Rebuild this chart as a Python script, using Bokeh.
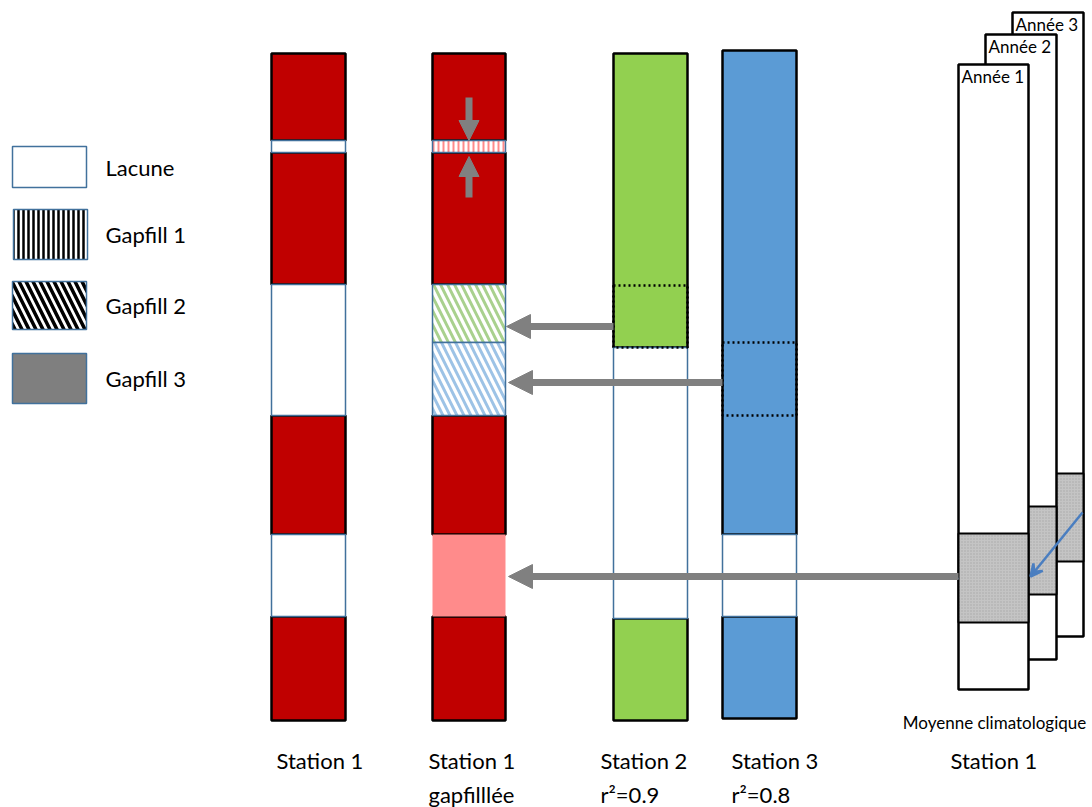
from bokeh.plotting import figure
from bokeh.models import Range1d, Arrow, NormalHead, VeeHead
from bokeh.core.properties import value
from bokeh.embed import file_html
from bokeh.resources import INLINE

FONT = "Lato"

# ---- diagram content (segment bounds along the time axis, top->bottom) ----
columns = ["Station 1", "Station 1 gapfilllée", "Station 2", "Station 3"]
col_left = [271, 432, 613, 722]
col_right = [345, 505, 687, 796]
col_segments = [
    [(53, 140, "obs1"), (140, 152, "gap"), (152, 284, "obs1"), (284, 415, "gap"),
     (415, 534, "obs1"), (534, 616, "gap"), (616, 720, "obs1")],
    [(53, 140, "obs1"), (140, 152, "gf1"), (152, 284, "obs1"), (284, 342, "gf2a"),
     (342, 415, "gf2b"), (415, 534, "obs1"), (534, 616, "gf3"), (616, 720, "obs1")],
    [(53, 347, "obs2"), (347, 618, "gap"), (618, 720, "obs2")],
    [(50, 534, "obs3"), (534, 616, "gap"), (616, 718, "obs3")],
]
used_periods = [(2, 285, 347), (3, 342, 415)]

styles = {
    "obs1": dict(fill_color="#C00000", line_color="black", line_width=2.5),
    "obs2": dict(fill_color="#92D050", line_color="black", line_width=2.5),
    "obs3": dict(fill_color="#5B9BD5", line_color="black", line_width=2.5),
    "gap": dict(fill_color="white", line_color="#41719C", line_width=1.5),
    "gf1": dict(fill_color="white", line_color="#41719C", line_width=1.5,
                hatch_pattern="vertical_line", hatch_color="#FF8B8B", hatch_scale=5, hatch_weight=2),
    "gf2a": dict(fill_color="white", line_color="#41719C", line_width=1.5,
                 hatch_pattern="left_diagonal_line", hatch_color="#A9D18E", hatch_scale=14, hatch_weight=3),
    "gf2b": dict(fill_color="white", line_color="#41719C", line_width=1.5,
                 hatch_pattern="left_diagonal_line", hatch_color="#9DC3E6", hatch_scale=14, hatch_weight=3),
    "gf3": dict(fill_color="#FF8B8B", line_color=None),
}

legend_labels = ["Lacune", "Gapfill 1", "Gapfill 2", "Gapfill 3"]
legend_top = [146, 209, 281, 353]
legend_bottom = [187, 259, 329, 403]

years = ["Année 3", "Année 2", "Année 1"]
year_left = [1012, 985, 958]
year_right = [1083, 1056, 1028]
year_top = [12, 34, 64]
year_bottom = [636, 659, 689]
year_fill_top = [473, 506, 533]
year_fill_bottom = [561, 594, 622]

# fill arrows: (from_x, to_x, y)
fill_arrows = [(613, 505, 326), (722, 507, 382), (958, 507, 576)]

bottom_labels = ["Station 1", "Station 1", "Station 2", "Station 3", "Station 1"]
bottom_sub = ["", "gapfilllée", "r²=0.9", "r²=0.8", ""]
bottom_x = [276, 428, 600, 731, 950]

p = figure(width=1092, height=807, x_range=Range1d(0, 1092), y_range=Range1d(807, 0),
           output_backend="svg", toolbar_location=None, min_border=0,
           x_axis_type=None, y_axis_type=None)
p.grid.visible = False
p.outline_line_color = None
p.background_fill_color = "white"

# columns
for ci, segs in enumerate(col_segments):
    order = sorted(segs, key=lambda s: 0 if s[2].startswith("obs") else 1)
    for top, bot, kind in order:
        p.quad(left=col_left[ci], right=col_right[ci], top=top, bottom=bot, **styles[kind])

for ci, top, bot in used_periods:
    p.quad(left=col_left[ci], right=col_right[ci], top=top, bottom=bot, fill_color=None,
           line_color="black", line_width=2.5, line_dash="2 3")

# small arrows showing gapfill 1
mid = (col_left[1] + col_right[1]) / 2
p.add_layout(Arrow(x_start=mid, y_start=97, x_end=mid, y_end=140, line_color="#808080", line_width=7,
                   end=NormalHead(size=20, fill_color="#808080", line_color="#808080")))
p.add_layout(Arrow(x_start=mid, y_start=197, x_end=mid, y_end=156, line_color="#808080", line_width=7,
                   end=NormalHead(size=20, fill_color="#808080", line_color="#808080")))

# year boxes (back to front)
for i in range(3):
    p.quad(left=year_left[i], right=year_right[i], top=year_top[i], bottom=year_bottom[i],
           fill_color="white", line_color="black", line_width=2.5)
    p.quad(left=year_left[i], right=year_right[i], top=year_fill_top[i], bottom=year_fill_bottom[i],
           fill_color="#C4C4C4", line_color="black", line_width=2,
           hatch_pattern="dot", hatch_color="#A8A8A8", hatch_scale=3, hatch_weight=1)
p.text(x=[x + 3 for x in year_left], y=[t + 1 for t in year_top], text=years,
       text_font=value(FONT), text_font_size="17px", text_baseline="top", text_color="black")

# blue arrow between years
p.add_layout(Arrow(x_start=1082, y_start=512, x_end=1030, y_end=576, line_color="#4A7EC0", line_width=2.5,
                   end=VeeHead(size=12, line_color="#4A7EC0", line_width=2.5, fill_color="#4A7EC0")))
p.line(x=[890, 958], y=[578, 578], line_color="#5B8FD0", line_width=1.5)

# fill arrows
for x0, x1, y in fill_arrows:
    p.add_layout(Arrow(x_start=x0, y_start=y, x_end=x1 + 1, y_end=y, line_color="#808080", line_width=7,
                       end=NormalHead(size=24, fill_color="#808080", line_color="#808080")))

# legend
p.quad(left=12, right=86, top=legend_top[0], bottom=legend_bottom[0], fill_color="white",
       line_color="#41719C", line_width=1.5)
p.quad(left=13, right=87, top=legend_top[1], bottom=legend_bottom[1], fill_color="white",
       line_color="#41719C", line_width=1.5, hatch_pattern="vertical_line", hatch_color="black",
       hatch_scale=5, hatch_weight=2.5)
p.quad(left=12, right=86, top=legend_top[2], bottom=legend_bottom[2], fill_color="white",
       line_color="#41719C", line_width=1.5, hatch_pattern="left_diagonal_line", hatch_color="black",
       hatch_scale=14, hatch_weight=3.5)
p.quad(left=12, right=86, top=legend_top[3], bottom=legend_bottom[3], fill_color="#7F7F7F",
       line_color="#41719C", line_width=1.5)
p.text(x=[105] * 4, y=[(t + b) / 2 for t, b in zip(legend_top, legend_bottom)], text=legend_labels,
       text_font=value(FONT), text_font_size="22px", text_baseline="middle", text_color="black")

# bottom labels
p.text(x=bottom_x, y=[760] * 5, text=bottom_labels, text_font=value(FONT), text_font_size="22px",
       text_baseline="middle", text_color="black")
p.text(x=bottom_x, y=[794] * 5, text=bottom_sub, text_font=value(FONT), text_font_size="22px",
       text_baseline="middle", text_color="black")
p.text(x=[994], y=[722], text=["Moyenne climatologique"], text_font=value(FONT), text_font_size="17px",
       text_align="center", text_baseline="middle", text_color="black")

open("out.html", "w").write(file_html(p, INLINE))
